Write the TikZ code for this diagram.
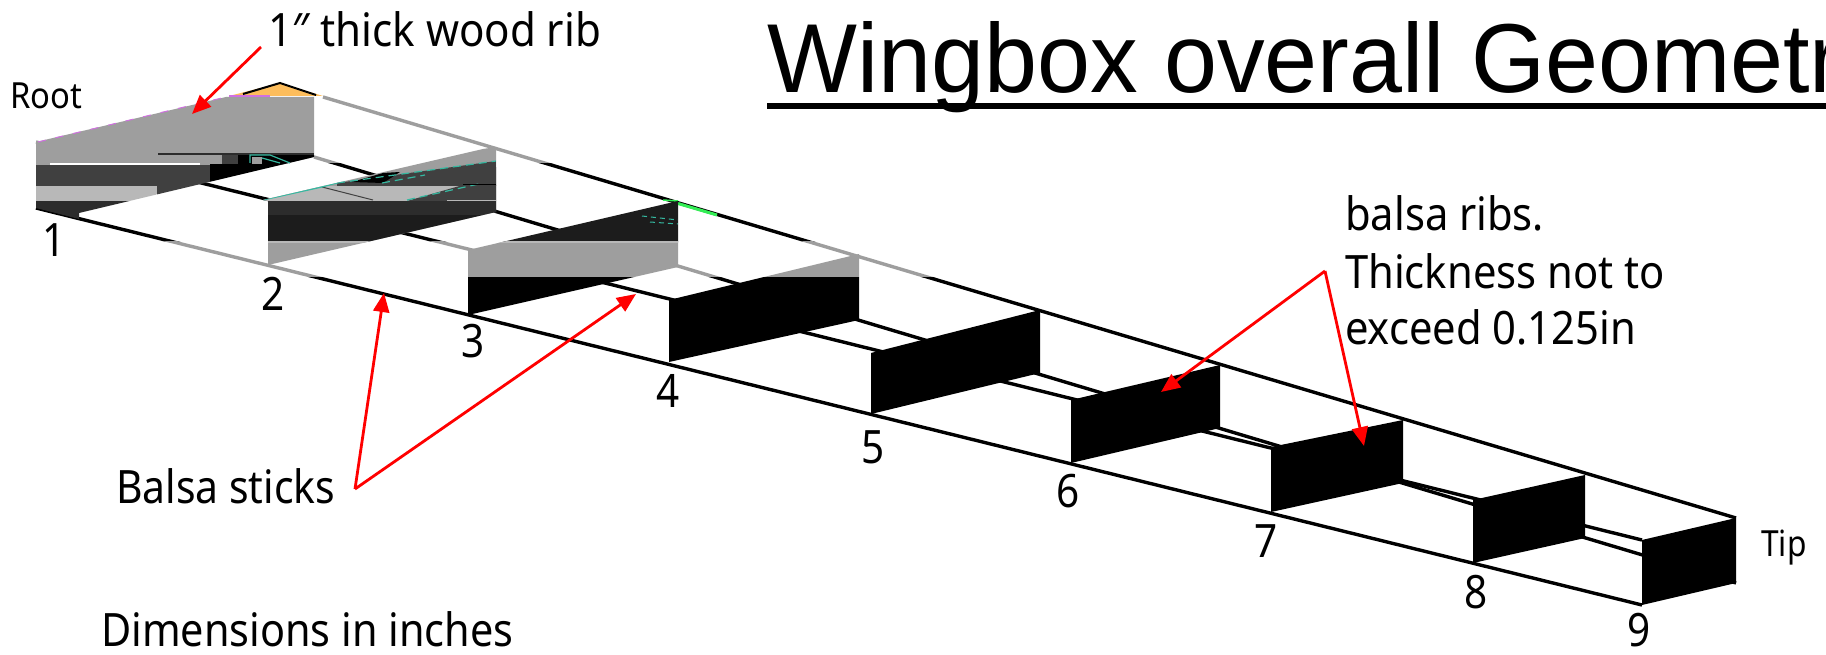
\documentclass[tikz,border=0pt]{standalone}
\usepackage{fontspec}
\setmainfont{Noto Sans}
\newfontfamily\titlefont{Liberation Sans}
\usetikzlibrary{arrows.meta}
\definecolor{ribgray}{HTML}{9E9E9E}
\definecolor{ribdark}{HTML}{404040}
\definecolor{riblight}{HTML}{B8B8B8}
\definecolor{ribcoal}{HTML}{2C2C2C}
\definecolor{ribsoot}{HTML}{1C1C1C}
\definecolor{ribteal}{HTML}{35B8A0}
\definecolor{ribgreen}{HTML}{33EE55}
\definecolor{ribamber}{HTML}{FDBD5C}
\definecolor{ribpink}{HTML}{D070E0}
\newcommand{\longlines}[1]{%
  \draw[line width=3.4pt,#1] (36,208) -- (1642,605);
  \draw[line width=3.4pt,#1] (36,142) -- (1642,540);
  \draw[line width=3.4pt,#1] (314,157) -- (1736,583);
  \draw[line width=3.4pt,#1] (323,97) -- (1736,518);
}
\newcommand{\lineband}[3]{\begin{scope}\clip (0,#1) rectangle (1826,#2);\longlines{#3}\end{scope}}
\newcommand{\wtxt}[2]{\scalebox{#1}[1]{#2}}
\tikzset{
  lab/.style={anchor=base west,inner sep=0pt,font=\fontsize{46}{50}\selectfont},
  num/.style={anchor=base,inner sep=0pt,font=\fontsize{46}{50}\selectfont},
  small/.style={anchor=base west,inner sep=0pt,font=\fontsize{36}{40}\selectfont},
  redarrow/.style={draw=red,line width=2.8pt,-{Triangle[length=19pt,width=16pt]}},
}
\begin{document}
\begin{tikzpicture}[x=1pt,y=-1pt]
\useasboundingbox (0,0) rectangle (1826,655);
\fill[white] (0,0) rectangle (1826,655);
% longitudinal sticks, banded
\lineband{0}{164}{ribgray}
\lineband{164}{242}{black}
\lineband{242}{277}{ribgray}
\lineband{277}{655}{black}
\draw[line width=3pt,ribgreen] (678,203.5) -- (717,215);
\draw[line width=1.5pt,ribgreen] (663,200) -- (678,201);
% orange triangle at root
\fill[ribamber] (229,96) -- (280,83) -- (323,96) -- cycle;
\draw[line width=2pt,black] (243,94) -- (280,83) -- (316,95);
% rib 1
\begin{scope}
\clip (36,142) -- (226,97) -- (314,97) -- (314,157) -- (79,213) -- (79,219) -- (36,208) -- cycle;
\fill[ribgray] (0,90) rectangle (330,165);
\fill[ribdark] (0,165) rectangle (210,186);
\fill[white] (50,163) rectangle (200,165);
\fill[black] (238,155) rectangle (330,164);
\fill[black] (210,164) rectangle (330,201);
\fill[ribdark] (222,155) rectangle (238,164);
\fill[riblight] (0,186) rectangle (157,201);
\fill[ribdark] (157,186) rectangle (210,201);
\fill[ribcoal] (0,201) rectangle (330,225);
\fill[ribgray] (252,157) rectangle (262,164);
\draw[line width=1.5pt,ribcoal] (158,154) -- (314,154);
\end{scope}
\draw[line width=1.2pt,ribteal] (250,163) -- (250,155) -- (270,155) -- (290,163);
\draw[line width=1.2pt,ribteal] (262,158) -- (280,163);
\draw[line width=1.6pt,ribpink] (229,96) -- (270,96);
\draw[line width=1pt,ribpink,dash pattern=on 8pt off 10pt] (38,142) -- (226,97);
% rib 2
\begin{scope}
\clip (263,200) -- (483,149) -- (496,147) -- (496,212) -- (268,265) -- (268,201) -- cycle;
\fill[ribgray] (250,140) rectangle (500,266);
\fill[ribdark] (337,183) -- (496,161) -- (500,186) -- (337,186) -- cycle;
\fill[black] (352,182) -- (383,173) -- (400,172) -- (383,183) -- cycle;
\fill[riblight] (250,186) rectangle (463,201);
\fill[ribdark] (407,201) -- (463,185) -- (500,185) -- (500,201) -- cycle;
\fill[ribcoal] (250,201) rectangle (500,215);
\fill[ribsoot] (250,215) rectangle (500,242);
\fill[riblight] (250,241.5) rectangle (500,243);
\draw[line width=1pt,ribdark] (322,187) -- (373,200);
\draw[line width=1.2pt,ribteal,dash pattern=on 8pt off 5pt] (337,183) -- (496,161);
\draw[line width=1.2pt,ribteal,dash pattern=on 8pt off 5pt] (382,183) -- (425,175);
\draw[line width=1.2pt,ribteal,dash pattern=on 8pt off 5pt] (407,200) -- (483,183);
\draw[line width=1.2pt,ribteal] (263,200) -- (322,187) -- (337,183);
\draw[line width=1pt,black] (463,185) -- (496,185);
\draw[line width=1pt,riblight] (447,200.5) -- (496,200.5);
\end{scope}
% rib 3
\begin{scope}
\clip (468,250) -- (678,201) -- (678,267) -- (468,315) -- cycle;
\fill[ribsoot] (460,195) rectangle (680,242);
\fill[ribgray] (460,242) rectangle (680,277);
\fill[riblight] (460,241.5) rectangle (680,243);
\fill[black] (460,277) rectangle (680,320);
\draw[line width=1pt,ribteal,dash pattern=on 5pt off 4pt] (642,216) -- (678,220);
\draw[line width=1pt,ribteal,dash pattern=on 5pt off 4pt] (650,222) -- (678,224);
\end{scope}
% rib 4
\begin{scope}
\clip (669,300) -- (859,254) -- (859,320) -- (669,362) -- cycle;
\fill[ribgray] (660,250) rectangle (860,277);
\fill[black] (660,277) rectangle (860,365);
\end{scope}
% ribs 5-9
\fill[black] (871,353) -- (1040,310) -- (1040,373) -- (871,414) -- cycle;
\fill[black] (1071,400) -- (1220,365) -- (1220,428) -- (1071,463) -- cycle;
\fill[black] (1271,447) -- (1403,420) -- (1403,483) -- (1271,512) -- cycle;
\fill[black] (1473,500) -- (1585,475) -- (1585,538) -- (1473,563) -- cycle;
\fill[black] (1642,540) -- (1736,518) -- (1736,583) -- (1642,605) -- cycle;
% title
\fill[black] (767,103) rectangle (1826,109);
\node[anchor=base west,inner sep=0pt,font=\titlefont\fontsize{98}{100}\selectfont] (title) at (767,93) {\wtxt{.972}{Wingbox overall Geometry}};
% labels
\node[lab] (ribnote) at (268,47) {\wtxt{.915}{1″ thick wood rib}};
\node[small] (root) at (10,109) {\wtxt{.91}{Root}};
\node[small] (tip) at (1761,556) {\wtxt{.88}{Tip}};
\node[num] (n1) at (54,257) {\wtxt{.88}{1}};
\node[num] (n2) at (273,310) {\wtxt{.88}{2}};
\node[num] (n3) at (473,357) {\wtxt{.88}{3}};
\node[num] (n4) at (668,407) {\wtxt{.88}{4}};
\node[num] (n5) at (873,463) {\wtxt{.88}{5}};
\node[num] (n6) at (1068,507) {\wtxt{.88}{6}};
\node[num] (n7) at (1266,557) {\wtxt{.88}{7}};
\node[num] (n8) at (1476,608) {\wtxt{.88}{8}};
\node[num] (n9) at (1639,646) {\wtxt{.88}{9}};
\node[lab] (b1) at (1345,231) {\wtxt{.907}{balsa ribs.}};
\node[lab] (b2) at (1345,288) {\wtxt{.907}{Thickness not to}};
\node[lab] (b3) at (1345,344) {\wtxt{.907}{exceed 0.125in}};
\node[lab] (sticks) at (116,503) {\wtxt{.888}{Balsa sticks}};
\node[lab] (dims) at (101,646) {\wtxt{.90}{Dimensions in inches}};
% arrows
\coordinate (ribFrom) at (261,47);
\coordinate (ribTo) at (192,114);
\coordinate (stickFrom) at (355,489);
\coordinate (stickToA) at (384,293);
\coordinate (stickToB) at (636,294);
\coordinate (balsaFrom) at (1325,271);
\coordinate (balsaToA) at (1161,392);
\coordinate (balsaToB) at (1364,446);
\draw[redarrow] (ribFrom) -- (ribTo);
\draw[redarrow] (stickFrom) -- (stickToA);
\draw[redarrow] (stickFrom) -- (stickToB);
\draw[redarrow] (balsaFrom) -- (balsaToA);
\draw[redarrow] (balsaFrom) -- (balsaToB);
\end{tikzpicture}
\end{document}
